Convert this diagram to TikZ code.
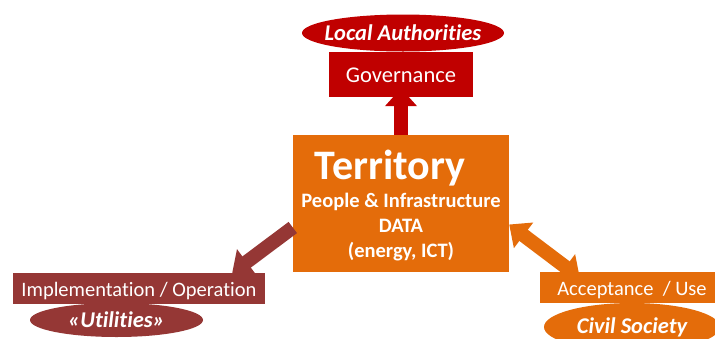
\documentclass[tikz,border=0pt]{standalone}
\usepackage{fontspec}
\setmainfont{Carlito}[Ligatures=NoCommon]
\usetikzlibrary{shapes.geometric,arrows.meta}
\definecolor{govred}{HTML}{C00000}
\definecolor{terrorange}{HTML}{E46C0A}
\definecolor{utilbrown}{HTML}{953735}

\begin{document}
\begin{tikzpicture}[x=1pt,y=-1pt,
  box/.style={rectangle,fill=#1,text=white,inner sep=0pt,
    text height=16pt,text depth=0pt,font=\fontsize{20.5}{22}\selectfont},
  oval/.style={ellipse,fill=#1,inner sep=0pt},
  ovaltext/.style={text=white,inner sep=0pt,
    font=\fontsize{22.5}{24}\selectfont\bfseries\itshape},
  fat/.style={draw=#1,line width=14pt,-{Triangle[length=18pt,width=31pt]}}]
 \useasboundingbox (0,0) rectangle (715,338);

 % top: local authorities
 \node[oval=govred,minimum width=202pt,minimum height=37pt] (auth) at (403,33) {};
 \node[ovaltext] (authtext) at (auth) {Local Authorities};
 \node[box=govred,minimum width=144pt,minimum height=45pt,
  font=\fontsize{22.5}{24}\selectfont] (gov) at (401,74.5) {Governance};

 % centre
 \node[box=terrorange,minimum width=216pt,minimum height=137pt] (terr) at (401,203.5) {};
 \node[text=white,font=\fontsize{42}{46}\selectfont\bfseries] (title) at (390,168) {Territory};
 \node[text=white,align=center,font=\fontsize{20.5}{25}\selectfont\bfseries] (data) at (401,227)
  {People \& Infrastructure\\DATA\\(energy, ICT)};

 % left: utilities
 \node[box=utilbrown,minimum width=252pt,minimum height=31pt] (impl) at (139,288.5)
  {Implementation / Operation};
 \node[oval=utilbrown,minimum width=173pt,minimum height=34pt] (util) at (116.5,320) {};
 \node[ovaltext] (utiltext) at (util) {«Utilities»};

 % right: civil society
 \node[box=terrorange,minimum width=184pt,minimum height=31pt] (accept) at (632,287.5)
  {Acceptance~~/ Use};
 \node[oval=terrorange,minimum width=176pt,minimum height=48pt] (civil) at (632,327) {};
 \node[ovaltext] (civiltext) at (632,327) {Civil Society};

 % arrows
 \draw[fat=govred] (terr.north) -- ([yshift=9pt]gov.south);
 \draw[fat=utilbrown] ([yshift=-24pt]terr.west) -- ([xshift=-33pt]impl.north east);
 \draw[fat=terrorange,{Triangle[length=18pt,width=31pt]}-{Triangle[length=18pt,width=31pt]}]
  ([yshift=-21pt]terr.east) -- ([xshift=40pt,yshift=-6pt]accept.north west);
\end{tikzpicture}
\end{document}
